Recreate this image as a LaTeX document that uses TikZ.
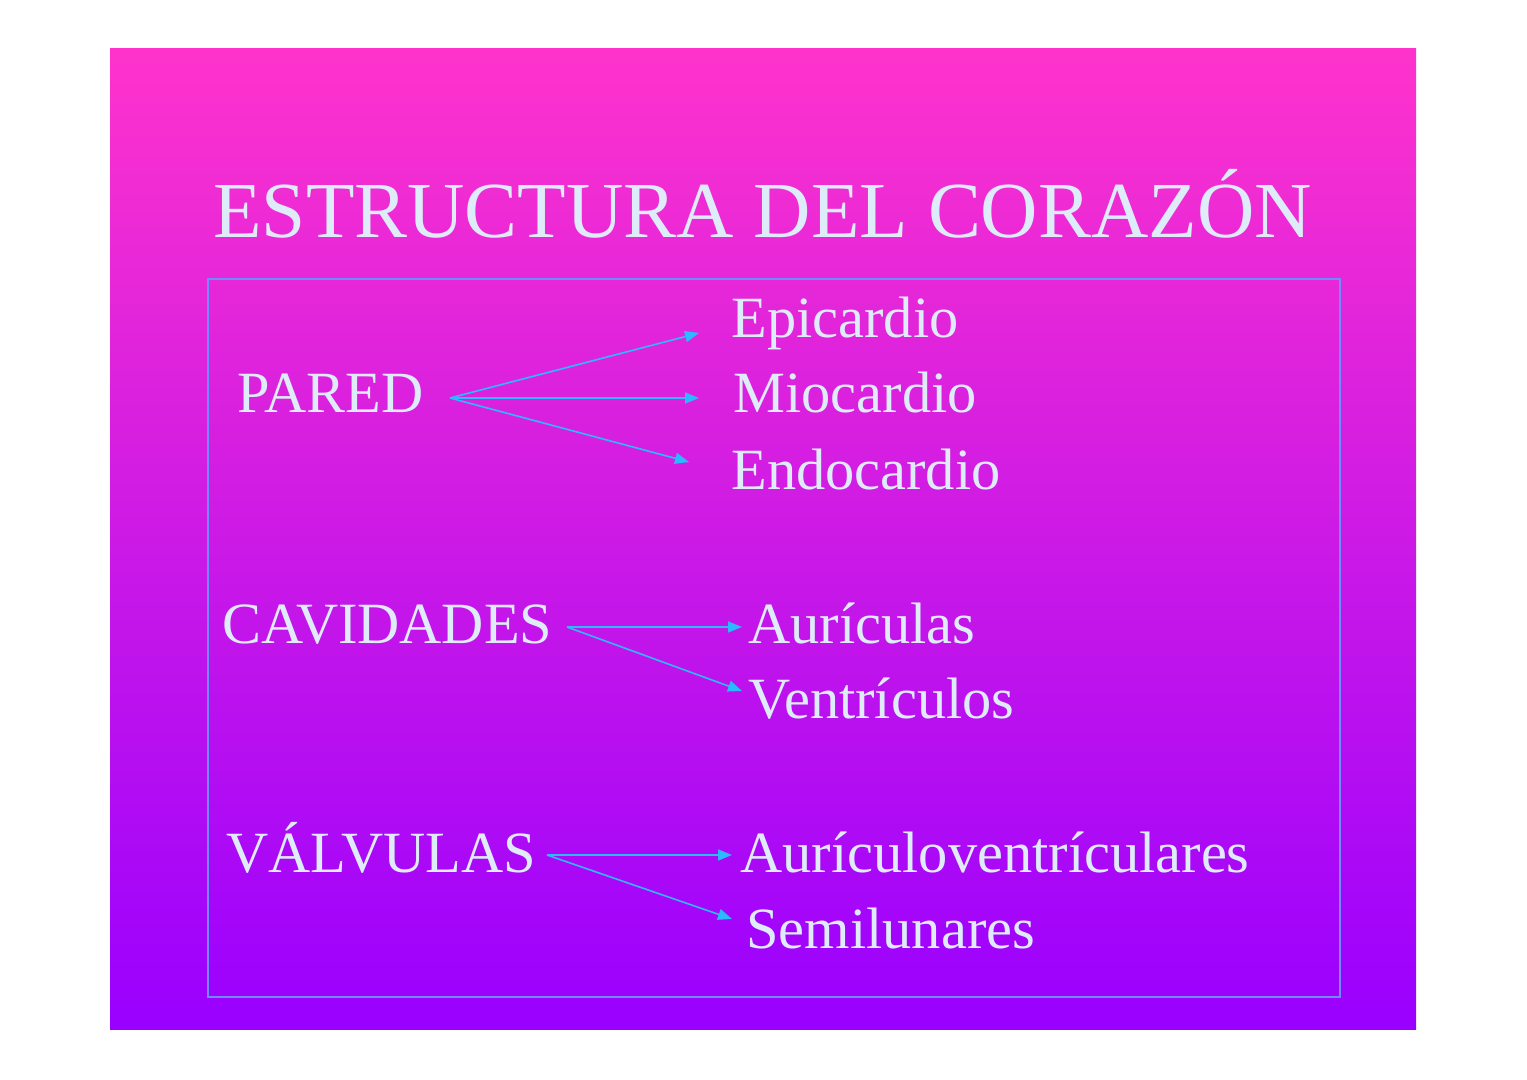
\documentclass[tikz,border=0pt]{standalone}
\usepackage{fontspec}
\setmainfont{Liberation Serif}
\usetikzlibrary{arrows.meta}
\definecolor{slidetop}{RGB}{255,51,204}
\definecolor{slidebot}{RGB}{153,0,255}
\definecolor{txt}{RGB}{222,236,250}
\definecolor{arrowc}{RGB}{45,185,255}
\definecolor{framec}{RGB}{110,140,255}
\begin{document}
\begin{tikzpicture}[x=0.5pt,y=-0.5pt,
  titletext/.style={anchor=base west,inner sep=0pt,text=txt,font=\fontsize{39.7}{46}\selectfont},
  itemtext/.style={anchor=base west,inner sep=0pt,text=txt,font=\fontsize{29.2}{34}\selectfont},
  conn/.style={draw=arrowc,line width=0.8pt,-{Triangle[length=7pt,width=5.5pt]}}]
\useasboundingbox (0,0) rectangle (1527,1080);
\fill[white] (0,0) rectangle (1527,1080);
\shade[top color=slidetop,bottom color=slidebot] (110,49) rectangle (1416,1029);
\draw[framec,line width=0.6pt] (208,279) rectangle (1340,997);
\node[titletext] (title) at (213,238) {ESTRUCTURA DEL CORAZÓN};
\node[itemtext] (pared) at (237,413) {PARED};
\node[itemtext] (epi) at (731,338) {Epicardio};
\node[itemtext] (mio) at (733,413) {Miocardio};
\node[itemtext] (endo) at (731,490) {Endocardio};
\node[itemtext] (cav) at (222,643) {CAVIDADES};
\node[itemtext] (aur) at (748,643) {Aurículas};
\node[itemtext] (ven) at (748,718) {Ventrículos};
\node[itemtext] (val) at (226,872) {VÁLVULAS};
\node[itemtext] (av) at (740,872) {Aurículoventrículares};
\node[itemtext] (semi) at (746,948) {Semilunares};
\coordinate (ps) at (450,398);
\coordinate (pe1) at (699,333);
\coordinate (pe2) at (699,398);
\coordinate (pe3) at (689,462);
\coordinate (cs) at (567,627);
\coordinate (ce1) at (742,627);
\coordinate (ce2) at (742,691);
\coordinate (vs) at (547,855);
\coordinate (ve1) at (732,855);
\coordinate (ve2) at (732,919);
\draw[conn] (ps) -- (pe1);
\draw[conn] (ps) -- (pe2);
\draw[conn] (ps) -- (pe3);
\draw[conn] (cs) -- (ce1);
\draw[conn] (cs) -- (ce2);
\draw[conn] (vs) -- (ve1);
\draw[conn] (vs) -- (ve2);
\end{tikzpicture}
\end{document}
